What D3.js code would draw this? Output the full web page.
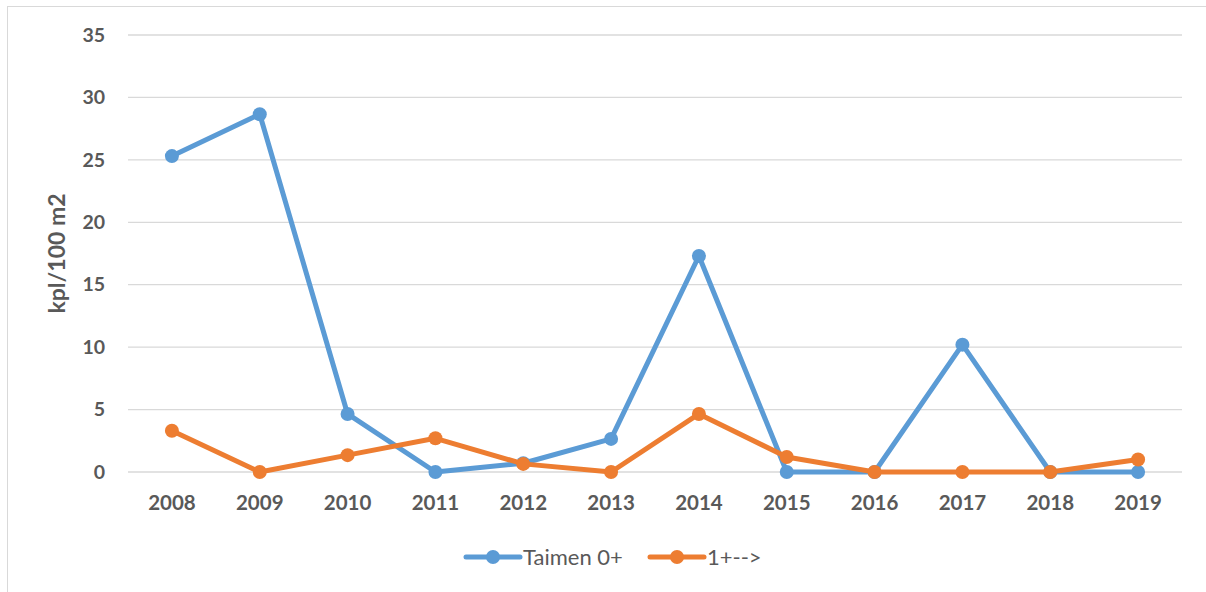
<!DOCTYPE html>
<html>
<head>
<meta charset="utf-8">
<script src="https://cdn.jsdelivr.net/npm/d3@7"></script>
<style>
  body { margin: 0; background: #fff; }
  svg { display: block; font-family: Lato, "Open Sans", sans-serif; }
</style>
</head>
<body>
<svg id="chart" width="1206" height="592"></svg>
<script>
const years = ['2008', '2009', '2010', '2011', '2012', '2013', '2014', '2015', '2016', '2017', '2018', '2019']
const taimen0 = [25.3, 28.65, 4.65, 0, 0.7, 2.65, 17.3, 0, 0, 10.2, 0, 0]
const taimen1 = [3.3, 0, 1.35, 2.7, 0.65, 0, 4.65, 1.2, 0, 0, 0, 1.0]
const yTicks = [0, 5, 10, 15, 20, 25, 30, 35]
const seriesNames = ['Taimen 0+', '1+-->']
const colors = ['#5B9BD5', '#ED7D31']

const margin = { top: 35, right: 24, bottom: 120, left: 128 }
const W = 1206, H = 592
const width = W - margin.left - margin.right
const height = H - margin.top - margin.bottom

const svg = d3.select('#chart')

// chart border
svg.append('rect')
    .attr('x', 7.5).attr('y', 6.5)
    .attr('width', W).attr('height', H)
    .attr('fill', 'none')
    .attr('stroke', '#d9d9d9')

const chart = svg.append('g')
    .attr('transform', `translate(${margin.left}, ${margin.top})`)

const xScale = d3.scaleBand()
    .domain(years)
    .range([0, width])

const yScale = d3.scaleLinear()
    .domain([0, 35])
    .range([height, 0])

// gridlines
chart.selectAll('.grid')
    .data(yTicks)
    .join('line')
        .attr('class', 'grid')
        .attr('x1', 0).attr('x2', width)
        .attr('y1', d => yScale(d)).attr('y2', d => yScale(d))
        .attr('stroke', '#d9d9d9')
        .attr('stroke-width', 1.3)

const yAxis = d3.axisLeft(yScale).tickValues(yTicks).tickSize(0).tickPadding(23)
const xAxis = d3.axisBottom(xScale).tickSize(0).tickPadding(23)

chart.append('g')
    .attr('class', 'axis y-axis')
    .call(yAxis)
    .call(g => g.select('.domain').remove())
    .selectAll('text')
        .attr('font-size', 19.5).attr('font-weight', 'bold').attr('fill', '#595959')
        .attr('font-family', 'Lato, sans-serif')

chart.append('g')
    .attr('class', 'axis x-axis')
    .attr('transform', `translate(0, ${height})`)
    .call(xAxis)
    .call(g => g.select('.domain').remove())
    .selectAll('text')
        .attr('font-size', 20.5).attr('font-weight', 'bold').attr('fill', '#595959')
        .attr('font-family', 'Lato, sans-serif')

// y axis title
chart.append('text')
    .attr('transform', `translate(${-63}, ${height / 2}) rotate(-90)`)
    .attr('text-anchor', 'middle')
    .attr('font-size', 23).attr('font-weight', 'bold').attr('fill', '#595959')
    .text('kpl/100 m2')

const xc = d => xScale(d) + xScale.bandwidth() / 2
const line = d3.line()
    .x(d => xc(d[0]))
    .y(d => yScale(d[1]))

const series = [taimen0, taimen1].map((vals, i) => ({
    name: seriesNames[i],
    color: colors[i],
    values: years.map((y, j) => [y, vals[j]])
}))

series.forEach(s => {
    chart.append('path')
        .datum(s.values)
        .attr('fill', 'none')
        .attr('stroke', s.color)
        .attr('stroke-width', 5)
        .attr('stroke-linejoin', 'round')
        .attr('d', line)

    chart.selectAll(null)
        .data(s.values)
        .join('circle')
            .attr('cx', d => xc(d[0]))
            .attr('cy', d => yScale(d[1]))
            .attr('r', 7)
            .attr('fill', s.color)
})

// legend
const legendX = [466, 650]
const legend = svg.append('g').attr('transform', 'translate(0, 557)')
series.forEach((s, i) => {
    const g = legend.append('g').attr('transform', `translate(${legendX[i]}, 0)`)
    g.append('line')
        .attr('x1', 0).attr('x2', 54)
        .attr('stroke', s.color).attr('stroke-width', 5)
        .attr('stroke-linecap', 'round')
    g.append('circle').attr('cx', 27).attr('r', 7).attr('fill', s.color)
    g.append('text')
        .attr('x', 57).attr('dy', '0.35em')
        .attr('font-size', 22).attr('fill', '#595959')
        .text(s.name)
})
</script>
</body>
</html>
